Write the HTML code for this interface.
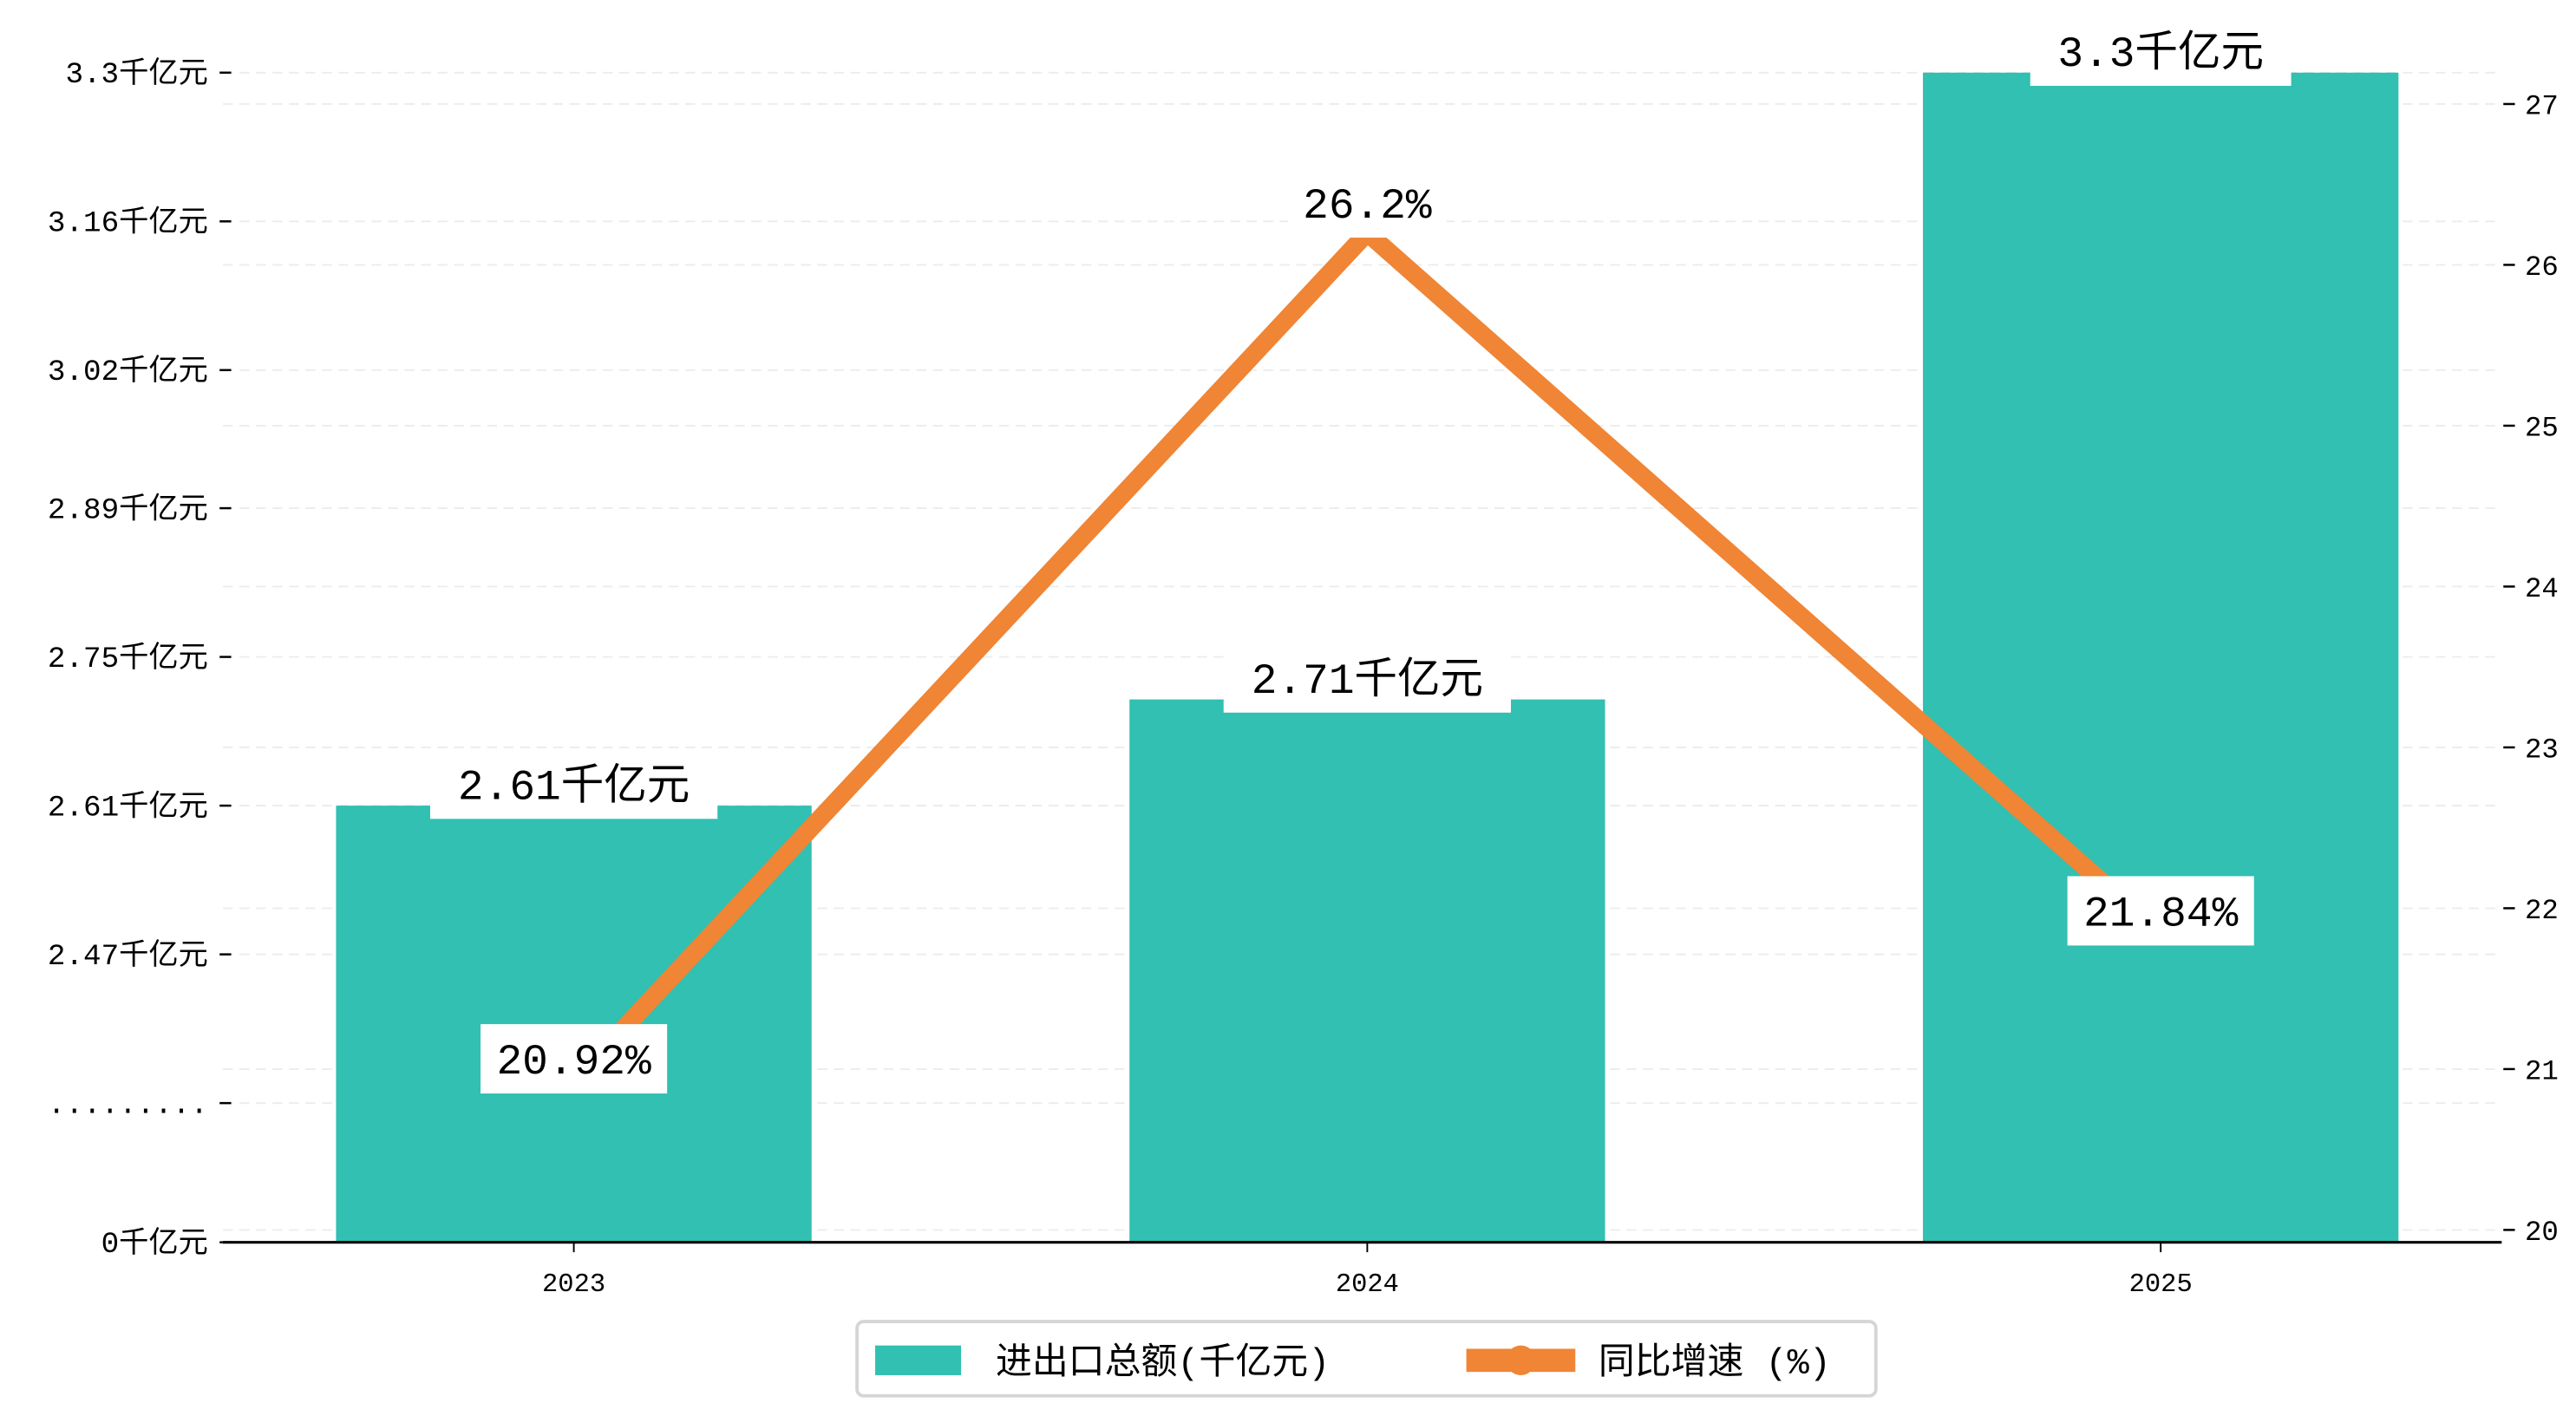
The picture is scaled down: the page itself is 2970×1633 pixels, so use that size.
<!DOCTYPE html>
<html><head><meta charset="utf-8"><style>
html,body{margin:0;padding:0;background:#fff;}
svg{display:block;font-family:"Liberation Mono","WenQuanYi Zen Hei","Noto Sans CJK SC",monospace;}
</style></head><body>
<svg id="chart" width="2970" height="1633" viewBox="0 0 1560 857.7" xmlns="http://www.w3.org/2000/svg">
<g id="grid"></g>
<g id="bars"></g>
<g id="line"></g>
<g id="axes"></g>
<g id="labels"></g>
<g>
<rect x="519" y="800.5" width="617" height="45" rx="4" fill="#fff" stroke="#d5d5d5" stroke-width="2"/>
<rect x="530" y="815" width="52" height="18" fill="#31c0b2"/>
<text x="603" y="832" font-size="22">进出口总额(千亿元)</text>
<rect x="888" y="817" width="66" height="14" fill="#ef8535"/>
<circle cx="921" cy="824" r="9" fill="#ef8535"/>
<text x="968" y="832" font-size="22">同比增速 (%)</text>
</g>
</svg>
<script>
const categories = ["2023","2024","2025"];
const totals = [2.61, 2.71, 3.3];
const growth = [20.92, 26.2, 21.84];
const leftTicks = [2.33, 2.47, 2.61, 2.75, 2.89, 3.02, 3.16, 3.3];
const leftTickLabels = [".........","2.47千亿元","2.61千亿元","2.75千亿元","2.89千亿元","3.02千亿元","3.16千亿元","3.3千亿元"];
const rightTicks = [20,21,22,23,24,25,26,27];
const totalLabels = ["2.61千亿元","2.71千亿元","3.3千亿元"];
const growthLabels = ["20.92%","26.2%","21.84%"];

const NS="http://www.w3.org/2000/svg";
function mk(tag, attrs, parent){const e=document.createElementNS(NS,tag);for(const k in attrs)e.setAttribute(k,attrs[k]);parent.appendChild(e);return e;}
const X0=135, X1=1515, YB=752.5;
const xc = i => 347.5 + i*480.5;
const yL = v => 488 - (v-2.61)*643.5;
const yR = v => 745 - (v-20)*97.43;
const barW = 288;
const grid=document.getElementById('grid'), bars=document.getElementById('bars'), line=document.getElementById('line'), axes=document.getElementById('axes'), labels=document.getElementById('labels');

leftTicks.forEach(v=>{const l=mk('line',{x1:X0,x2:X1,y1:yL(v),y2:yL(v),stroke:'#ececec','stroke-width':1,'stroke-dasharray':'6,4'},grid);

});
rightTicks.forEach(v=>{const l=mk('line',{x1:X0,x2:X1,y1:yR(v),y2:yR(v),stroke:'#ececec','stroke-width':1,'stroke-dasharray':'6,4'},grid);

});

totals.forEach((v,i)=>{const r=mk('rect',{x:xc(i)-barW/2,y:yL(v),width:barW,height:YB-yL(v),fill:'#31c0b2'},bars);

});

const pts=growth.map((v,i)=>xc(i)+','+yR(v)).join(' ');
const pl=mk('polyline',{points:pts,fill:'none',stroke:'#ef8535','stroke-width':11,'stroke-linejoin':'miter'},line);



const xa=mk('line',{x1:X0,x2:X1,y1:YB,y2:YB,stroke:'#000','stroke-width':1.6},axes);


categories.forEach((c,i)=>{mk('line',{x1:xc(i),x2:xc(i),y1:YB,y2:YB+6,stroke:'#000','stroke-width':1},axes);
const t=mk('text',{x:xc(i),y:782,'font-size':16,'text-anchor':'middle'},axes);t.textContent=c;

});
const allLeft=[0].concat(leftTicks), allLeftLab=["0千亿元"].concat(leftTickLabels);
allLeft.forEach((v,i)=>{const y = v===0?YB:yL(v);
mk('line',{x1:133,x2:140,y1:y,y2:y,stroke:'#000','stroke-width':1.3},axes);
const t=mk('text',{x:126,y:y+6,'font-size':18,'text-anchor':'end'},axes);t.textContent=allLeftLab[i];

});
rightTicks.forEach(v=>{const y=yR(v);
mk('line',{x1:1516,x2:1523,y1:y,y2:y,stroke:'#000','stroke-width':1.3},axes);
const t=mk('text',{x:1529,y:y+6,'font-size':17},axes);t.textContent=v;

});

function boxLabel(text,cx,cy,name,w){
 const g=mk('g',{},labels);
 
 
 mk('rect',{x:cx-w/2,y:cy-21,width:w,height:42,fill:'#fff'},g);
 const t=mk('text',{x:cx,y:cy+9,'font-size':26,'text-anchor':'middle'},g);t.textContent=text;
}
totals.forEach((v,i)=>boxLabel(totalLabels[i],xc(i),yL(v)-13,'bar-value-label',[174,174,158][i]));
growth.forEach((v,i)=>boxLabel(growthLabels[i],xc(i), i===1? yR(v)-18 : yR(v)-14,'growth-value-label',[113,96,113][i]));
</script>
</body></html>
